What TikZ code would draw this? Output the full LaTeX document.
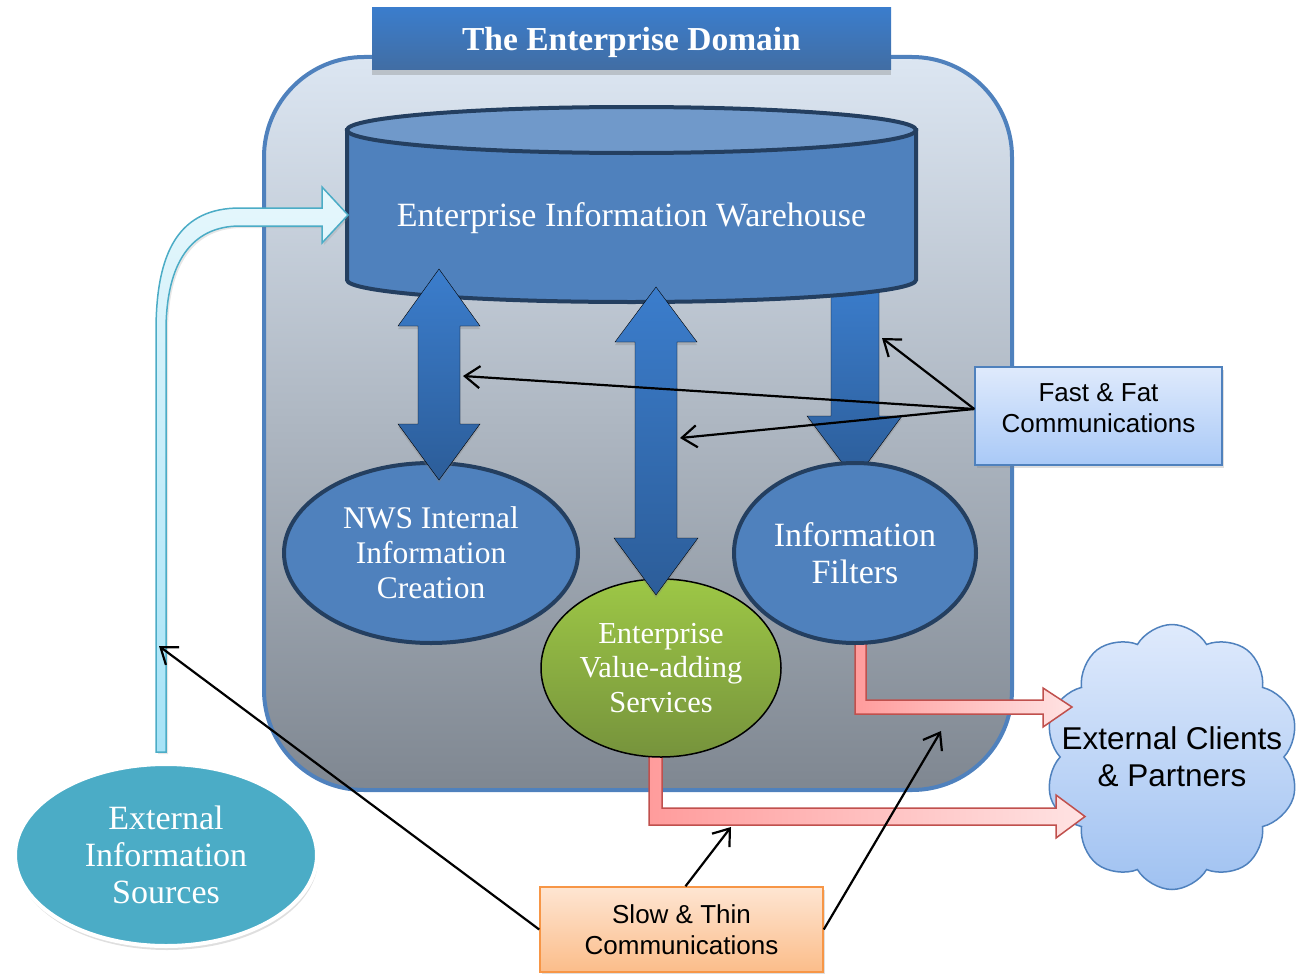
\documentclass[tikz,border=0pt]{standalone}
\usepackage{fontspec}
\setmainfont{Liberation Serif}
\setsansfont{Liberation Sans}
\usetikzlibrary{shadows,arrows.meta,shapes.geometric,shapes.symbols}

\definecolor{domtop}{HTML}{DCE6F2}
\definecolor{dombot}{HTML}{7F8791}
\definecolor{accent}{HTML}{4F81BD}
\definecolor{cyldark}{HTML}{243F60}
\definecolor{cyltop}{HTML}{7099CA}
\definecolor{arrtop}{HTML}{3B7DCC}
\definecolor{arrbot}{HTML}{2C5D99}
\definecolor{greentop}{HTML}{9DC746}
\definecolor{greenbot}{HTML}{76933C}
\definecolor{srcfill}{HTML}{4BACC6}
\definecolor{skytop}{HTML}{E6F7FC}
\definecolor{skybot}{HTML}{A6E3F7}
\definecolor{pinkA}{HTML}{FF9C9C}
\definecolor{pinkB}{HTML}{FFE3E3}
\definecolor{pinkline}{HTML}{C0504D}
\definecolor{fasttop}{HTML}{DFEAFC}
\definecolor{fastbot}{HTML}{A9C9F7}
\definecolor{slowtop}{HTML}{FEE5D2}
\definecolor{slowbot}{HTML}{FBBD8A}
\definecolor{slowline}{HTML}{F79646}

\tikzset{
  bubble/.style={ellipse, draw=cyldark, line width=4pt, fill=accent, inner sep=0pt,
                 text=white, align=center},
  blockarrow/.style={top color=arrtop, bottom color=arrbot,
                     drop shadow={shadow xshift=0pt, shadow yshift=-3pt, opacity=.3}},
  pinkarrow/.style={left color=pinkA, right color=pinkB, draw=pinkline, line width=1.5pt},
  note/.style={rectangle, line width=1.5pt, align=center, inner sep=0pt,
               font=\sffamily\fontsize{26}{31}\selectfont,
               drop shadow={shadow xshift=2pt, shadow yshift=-3pt, opacity=.25}},
  thin/.style={line width=2.2pt, -{Straight Barb[length=15pt,width=22pt,line width=2.2pt]}}
}

\begin{document}
\begin{tikzpicture}[x=1pt,y=-1pt]
        \useasboundingbox (0,0) rectangle (1304,974);

        % the domain box
        \draw[rounded corners=100pt, top color=domtop, bottom color=dombot, draw=accent,
              line width=4pt] (264,57) rectangle (1012,790);
        \node[rectangle, minimum width=519pt, minimum height=62pt, top color=arrtop,
              bottom color=arrbot!90!white, text=white, text depth=1pt,
              font=\bfseries\fontsize{33.5}{36}\selectfont,
              drop shadow={shadow xshift=0pt, shadow yshift=-5pt, opacity=.35}]
              (title) at (631.5,39) {The Enterprise Domain};

        % the pipe down to the filters, under the warehouse
        \draw[blockarrow] (831,280) -- (879,280) -- (879,416) -- (902,416) -- (855,480)
              -- (807,416) -- (831,416) -- cycle;

        % the warehouse
        \draw[fill=accent, draw=cyldark, line width=4pt] (347,130) -- (347,280)
              arc[start angle=180, end angle=0, x radius=284.5, y radius=22] -- (916,130) -- cycle;
        \draw[fill=cyltop, draw=cyldark, line width=4pt] (631.5,130) ellipse [x radius=284.5, y radius=23];
        \node[text=white, font=\fontsize{34}{38}\selectfont] (ware) at (631.5,218)
              {Enterprise Information Warehouse};

        % the cloud
        \node[cloud, cloud puffs=10, cloud puff arc=120, cloud ignores aspect,
              minimum width=255pt, minimum height=265pt, inner sep=0pt,
              top color=fasttop, bottom color=fastbot!90!accent, draw=accent, line width=1.5pt,
              align=center, font=\sffamily\fontsize{31.5}{37}\selectfont]
              (clients) at (1172,757)
              {\makebox[0pt]{External Clients}\\\makebox[0pt]{\& Partners}};

        % feeding in from outside
        \draw[top color=skytop, bottom color=skybot, draw=srcfill, line width=1.5pt,
              drop shadow={shadow xshift=2pt, shadow yshift=-2pt, opacity=.2}]
              (156,752) -- (156,331) .. controls (156,250) and (180,208) .. (240,208)
              -- (322,208) -- (322,187) -- (348,215) -- (322,243) -- (322,226) -- (240,226)
              .. controls (192,226) and (166,262) .. (166,331) -- (166,752) -- cycle;

        % going out to the clients
        \draw[pinkarrow] (855,630) -- (855,714) -- (1043,714) -- (1043,727) -- (1072,707)
              -- (1043,688) -- (1043,700) -- (866,700) -- (866,630) -- cycle;
        \draw[pinkarrow] (649,740) -- (649,825) -- (1056,825) -- (1056,838) -- (1085,816.5)
              -- (1056,795) -- (1056,808) -- (662,808) -- (662,740) -- cycle;

        % the ellipses
        \node[bubble, minimum width=294pt, minimum height=180pt,
              font=\fontsize{31.5}{35}\selectfont] (nws) at (431,553)
              {NWS Internal\\Information\\Creation};
        \node[bubble, minimum width=242pt, minimum height=180pt,
              font=\fontsize{34}{37}\selectfont] (filters) at (855,553)
              {Information\\Filters};
        \node[ellipse, minimum width=240pt, minimum height=178pt, inner sep=0pt,
              top color=greentop, bottom color=greenbot, draw=black, line width=1.5pt,
              text=white, align=center, font=\fontsize{30.5}{34.5}\selectfont]
              (values) at (661,668) {Enterprise\\Value-adding\\Services};
        \node[ellipse, minimum width=302pt, minimum height=182pt, inner sep=0pt,
              fill=srcfill, draw=white, line width=4pt, text=white, align=center,
              font=\fontsize{34}{37}\selectfont,
              drop shadow={shadow xshift=1pt, shadow yshift=-4pt, opacity=.25}]
              (sources) at (166,855) {External\\Information\\Sources};

        % the fat pipes
        \draw[blockarrow] (439,269) -- (480,326) -- (460,326) -- (460,424) -- (480,424)
              -- (439,480) -- (398,424) -- (418,424) -- (418,326) -- (398,326) -- cycle;
        \draw[blockarrow] (656,287) -- (697,342) -- (677,342) -- (677,538) -- (698,538)
              -- (656,595) -- (614,538) -- (635,538) -- (635,342) -- (615,342) -- cycle;

        % the two labels
        \node[note, minimum width=247pt, minimum height=98pt, top color=fasttop,
              bottom color=fastbot, draw=accent, text depth=16pt] (fast) at (1098.5,416)
              {Fast \& Fat\\Communications};
        \node[note, minimum width=283pt, minimum height=85pt, top color=slowtop,
              bottom color=slowbot, draw=slowline] (slow) at (681.5,929.5)
              {Slow \& Thin\\Communications};

        % and what they point at
        \coordinate (fl) at (463,376);
        \coordinate (fm) at (680,438);
        \coordinate (fr) at (882,338);
        \coordinate (sm) at (731,827);
        \coordinate (sr) at (941,731);
        \coordinate (sl) at (159,646);
        \draw[thin] ([yshift=7pt]fast.west) -- (fl);
        \draw[thin] ([yshift=7pt]fast.west) -- (fm);
        \draw[thin] ([yshift=7pt]fast.west) -- (fr);
        \draw[thin] ([xshift=4pt]slow.north) -- (sm);
        \draw[thin] (slow.east) -- (sr);
        \draw[thin] (slow.west) -- (sl);
\end{tikzpicture}
\end{document}
